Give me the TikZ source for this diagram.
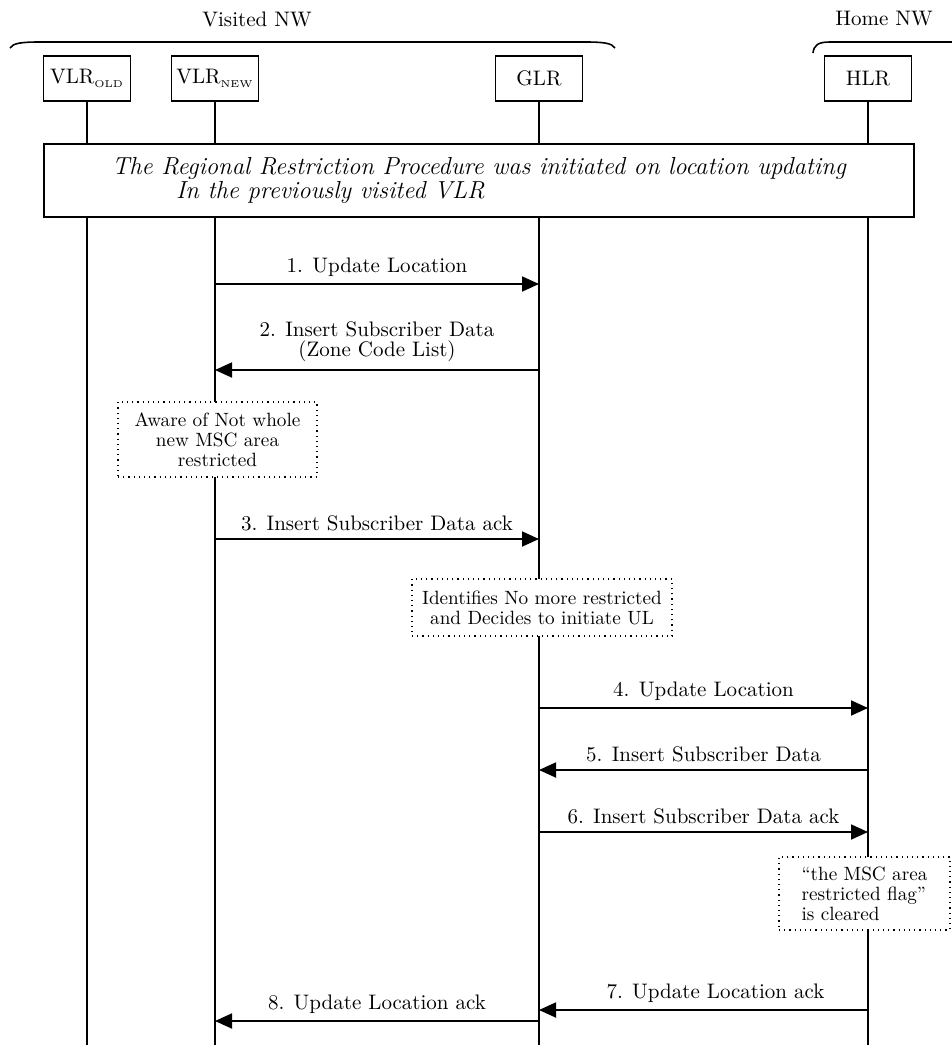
\documentclass[tikz,border=0pt]{standalone}
\usetikzlibrary{positioning, arrows.meta, calc}

\begin{document}
\begin{tikzpicture}[
    x=0.5pt, y=-0.5pt,      % 1単位 = 元画像の1px（下向きが正）
    line width=0.9pt,       % 線の太さを統一
    >={Triangle[length=8.5pt, width=7.5pt]},   % 塗りつぶし三角の矢じり
    font=\fontsize{10.5}{10}\selectfont,
    entity/.style={draw, fill=white, minimum width=43.5pt, minimum height=22.5pt, inner sep=0pt},
    note/.style={draw, dotted, line width=0.6pt, fill=white, inner sep=0pt, font=\fontsize{9.6}{10}\selectfont},
    msglabel/.style={above=1.5pt, inner sep=2pt}
]
    \useasboundingbox (0,0) rectangle (952,1045);

    % --- 1. ネットワークの括り ---
    \node (visited) at (257,19) {Visited NW};
    \node (home) at (884,19) {Home NW};
    \draw [line width=0.8pt] (10,48) .. controls (13,43) and (22,42) .. (40,42) -- (585,42) .. controls (603,42) and (612,43) .. (615,48);
    \draw [line width=0.8pt] (813,53) .. controls (814,45) and (818,42) .. (830,42) -- (952,42);

    % --- 2. エンティティとライフライン ---
    \node [entity] (vold) at (87,78.5) {VLR\textsubscript{\tiny OLD}};
    \node [entity] (vnew) at (215,78.5) {VLR\textsubscript{\tiny NEW}};
    \node [entity] (glr) at (539,78.5) {GLR};
    \node [entity] (hlr) at (868,78.5) {HLR};

    \coordinate (bottom) at (0,1045);
    \foreach \n in {vold, vnew, glr, hlr}
        \draw (\n.south) -- (\n.south |- bottom);

    % 手順の前提（全体を横切る枠）
    \node [draw, fill=white, minimum width=435pt, minimum height=36.5pt, inner sep=0pt,
           font=\fontsize{12.3}{11}\selectfont\itshape, align=left] (proc) at (479,180.5)
        {The Regional Restriction Procedure was initiated on location updating\\
         \hspace*{32pt}In the previously visited VLR};

    % --- 3. メッセージ（VLR_NEW <-> GLR） ---
    \coordinate (m1) at (0,284);
    \draw [->] (vnew |- m1) -- (glr |- m1) node [midway, msglabel] {1. Update Location};

    \coordinate (m2) at (0,370);
    \draw [->] (glr |- m2) -- (vnew |- m2) node [midway, msglabel, align=center] {2. Insert Subscriber Data\\(Zone Code List)};

    \node [note, minimum width=99.5pt, minimum height=37.5pt, align=center] (aware) at (217.5,439.5)
        {Aware of Not whole\\new MSC area\\restricted};

    \coordinate (m3) at (0,539);
    \draw [->] (vnew |- m3) -- (glr |- m3) node [midway, msglabel] {3. Insert Subscriber Data ack};

    \node [note, minimum width=130pt, minimum height=28.5pt, align=center] (decide) at (542,607.5)
        {Identifies No more restricted\\and Decides to initiate UL};

    % --- 4. メッセージ（GLR <-> HLR） ---
    \coordinate (m4) at (0,708);
    \draw [->] (glr |- m4) -- (hlr |- m4) node [midway, msglabel] {4. Update Location};

    \coordinate (m5) at (0,770);
    \draw [->] (hlr |- m5) -- (glr |- m5) node [midway, msglabel] {5. Insert Subscriber Data};

    \coordinate (m6) at (0,832);
    \draw [->] (glr |- m6) -- (hlr |- m6) node [midway, msglabel] {6. Insert Subscriber Data ack};

    \node [note, minimum width=85.5pt, minimum height=36.5pt, align=left] (cleared) at (864.5,893.5)
        {\textquotedblleft the MSC area\\restricted flag\textquotedblright\\is cleared};

    \coordinate (m7) at (0,1010);
    \draw [->] (hlr |- m7) -- (glr |- m7) node [midway, msglabel, xshift=6pt] {7. Update Location ack};

    \coordinate (m8) at (0,1021);
    \draw [->] (glr |- m8) -- (vnew |- m8) node [midway, msglabel] {8. Update Location ack};

\end{tikzpicture}
\end{document}
